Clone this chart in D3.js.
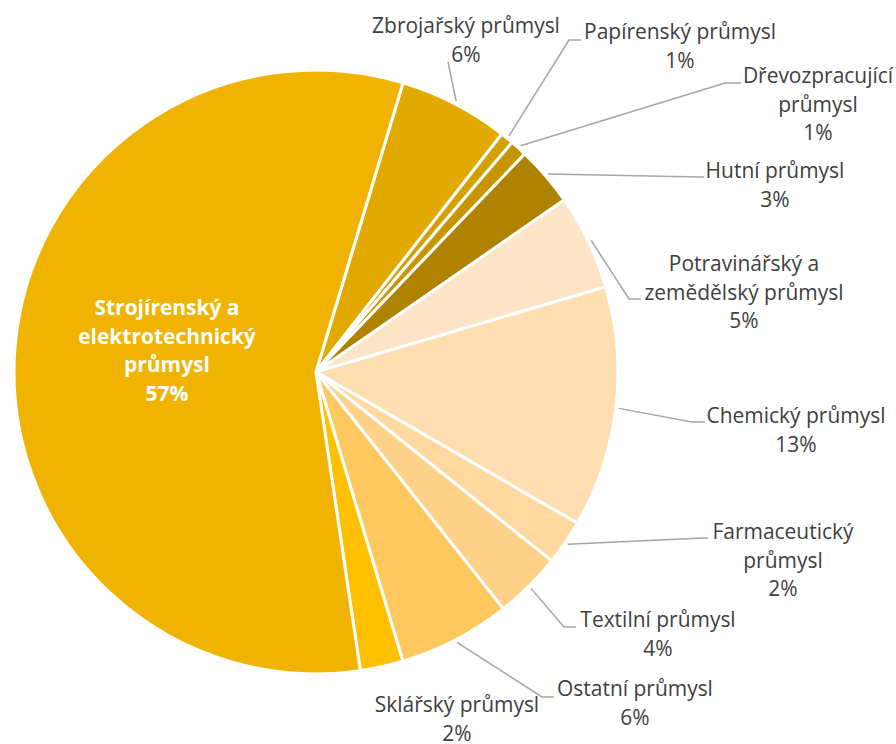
<!DOCTYPE html>
<html>
<head>
<meta charset="utf-8">
<script src="https://cdn.jsdelivr.net/npm/d3@7"></script>
<style>
  body { margin: 0; background: #fff; }
  svg text { font-family: "Open Sans", "Noto Sans", sans-serif; }
</style>
</head>
<body>
<div id="chart"></div>
<script>
// data, in clockwise order starting from the Strojírenský / Zbrojařský border
var categories = ["Zbrojařský průmysl", "Papírenský průmysl", "Dřevozpracující\nprůmysl", "Hutní průmysl",
  "Potravinářský a\nzemědělský průmysl", "Chemický průmysl", "Farmaceutický\nprůmysl", "Textilní průmysl",
  "Ostatní průmysl", "Sklářský průmysl", "Strojírenský a\nelektrotechnický\nprůmysl"];
var shares = [5.9, 0.7, 0.9, 3.2, 5.1, 12.9, 2.4, 3.6, 6.0, 2.3, 57.0];
var colors = ["#E2AA00", "#D4A000", "#C69500", "#AF8300", "#FFE5C7", "#FFDFB2", "#FFD99F", "#FFD28A",
  "#FFC85F", "#FFC000", "#F0B400"];

// label placement (text centre x, first baseline y) and leader line elbow / end points
var labelPos = [[466, 33], [680, 39], [818, 83], [775, 178], [744, 271], [796, 423], [783, 539],
  [658, 627], [635, 696], [457, 712], [167, 315]];
var leaderPts = [[[448, 62]], [[569, 40], [581, 40]], [[725, 83], [741, 83]], [[700, 177], [704, 177]],
  [[629, 299], [641, 299]], [[692, 422], [705, 422]], [[703, 538], [708, 538]], [[564, 627], [576, 627]],
  [[542, 697], [554, 697]], null, null];

var width = 896, height = 744,
    cx = 316, cy = 372, radius = 302,
    lineH = 28.6;

var svg = d3.select("#chart").append("svg")
    .attr("width", width)
    .attr("height", height);

var startDeg = 16.75;
var pie = d3.pie()
    .sort(null)
    .startAngle(startDeg * Math.PI / 180)
    .endAngle((startDeg + 360) * Math.PI / 180)
    .value(function(d) { return d; });

var arc = d3.arc().innerRadius(0).outerRadius(radius);

var arcs = pie(shares);

var g = svg.append("g")
    .attr("transform", "translate(" + cx + "," + cy + ")");

g.selectAll(".slice")
    .data(arcs)
  .enter().append("path")
    .attr("class", "slice")
    .attr("d", arc)
    .attr("fill", function(d, i) { return colors[i]; })
    .attr("stroke", "#fff")
    .attr("stroke-width", 3)
    .attr("stroke-linejoin", "round");

// leader lines
var line = d3.line();
arcs.forEach(function(d, i) {
  if (!leaderPts[i]) return;
  var a = (d.startAngle + d.endAngle) / 2;
  var r = radius + 3;
  var pts = [[cx + Math.sin(a) * r, cy - Math.cos(a) * r]].concat(leaderPts[i]);
  svg.append("path")
      .attr("d", line(pts))
      .attr("fill", "none")
      .attr("stroke", "#A6A6A6")
      .attr("stroke-width", 1.5);
});

// size the font so "Chemický průmysl" comes out about as wide as in the original (179px)
var probe = svg.append("text").attr("font-size", "20px").text("Chemický průmysl");
var fontSize = 20 * 179 / probe.node().getComputedTextLength();
probe.remove();

// labels
var pct = d3.format(".0f");
arcs.forEach(function(d, i) {
  var lines = categories[i].split("\n").concat([pct(shares[i]) + "%"]);
  var big = i === categories.length - 1;
  var t = svg.append("text")
      .attr("text-anchor", "middle")
      .attr("font-size", fontSize + "px")
      .attr("font-weight", big ? "bold" : "normal")
      .attr("fill", big ? "#fff" : "#404040");
  lines.forEach(function(s, j) {
    t.append("tspan")
        .attr("x", labelPos[i][0])
        .attr("y", labelPos[i][1] + j * lineH)
        .text(s);
  });
});
</script>
</body>
</html>
